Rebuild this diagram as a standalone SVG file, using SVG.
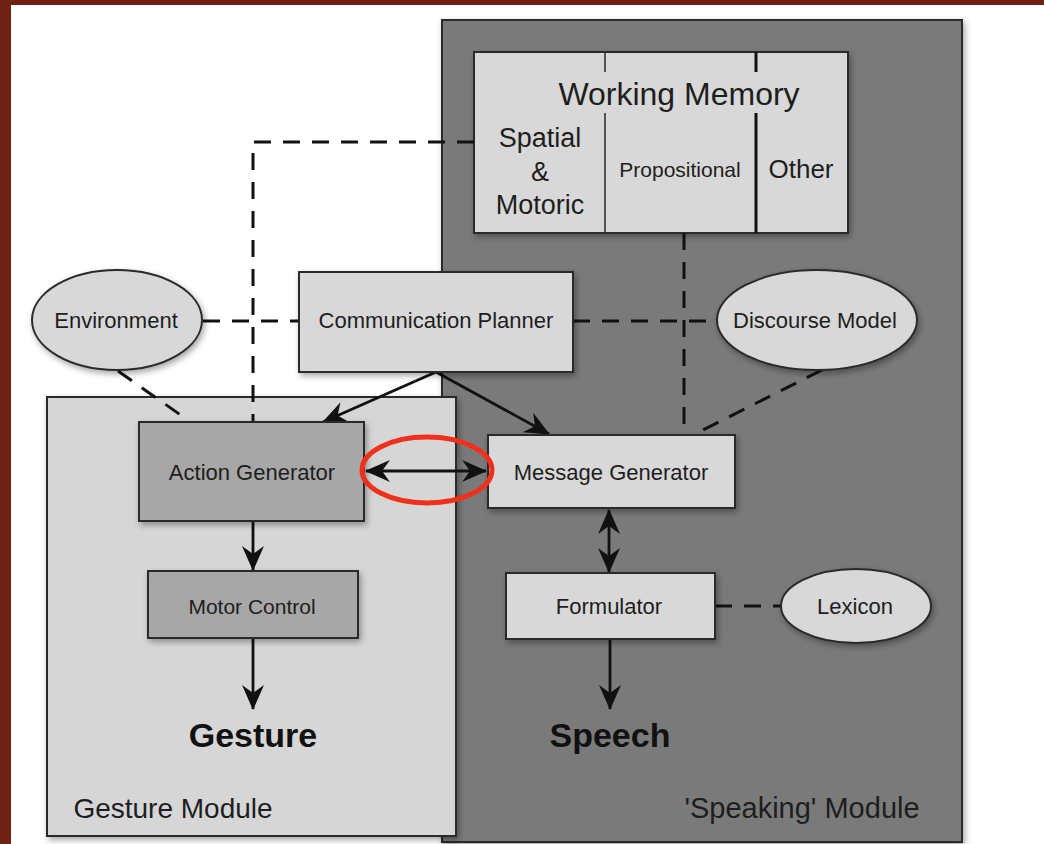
<svg xmlns="http://www.w3.org/2000/svg" width="1044" height="844" viewBox="0 0 1044 844">
<defs>
<style>
.t{font-family:"Liberation Sans",Arial,Helvetica,sans-serif;fill:#1e1e1e;text-anchor:middle}
.b{font-weight:bold;fill:#111}
.box{stroke:#2a2a2a;stroke-width:2}
.lt{fill:#d8d8d8}
.md{fill:#a7a7a7}
.dash{fill:none;stroke:#111;stroke-width:3;stroke-dasharray:17 12}
.sol{fill:none;stroke:#111;stroke-width:2.8}
</style>
<filter id="sh" x="-10%" y="-10%" width="125%" height="125%">
<feDropShadow dx="2" dy="3" stdDeviation="3" flood-color="#000" flood-opacity="0.35"/>
</filter>
<marker id="ah" viewBox="0 0 25 22" refX="24" refY="11" markerWidth="25" markerHeight="22" markerUnits="userSpaceOnUse" orient="auto-start-reverse">
<path d="M0,0 L25,11 L0,22 L8,11 z" fill="#111"/>
</marker>
</defs>

<rect x="0" y="0" width="1044" height="844" fill="#ffffff"/>
<rect x="0" y="0" width="1044" height="5" fill="#6e2113"/>
<rect x="0" y="0" width="11" height="844" fill="#6e2113"/>

<g id="speaking-module">
<rect x="442" y="20" width="520" height="822" fill="#7a7a7a" class="box" filter="url(#sh)"/>
<text class="t" x="802" y="818" font-size="29">'Speaking' Module</text>
</g>

<g id="working-memory">
<rect x="474" y="52" width="374" height="181" class="box lt" filter="url(#sh)"/>
<line x1="605" y1="52" x2="605" y2="72" stroke="#2a2a2a" stroke-width="1.5"/>
<line x1="605" y1="113" x2="605" y2="233" stroke="#2a2a2a" stroke-width="1.5"/>
<line x1="756" y1="52" x2="756" y2="72" stroke="#111" stroke-width="3"/>
<line x1="756" y1="113" x2="756" y2="233" stroke="#111" stroke-width="3"/>
<text class="t" x="679" y="105" font-size="32">Working Memory</text>
<text class="t" x="540" y="147" font-size="27">Spatial</text>
<text class="t" x="540" y="181" font-size="27">&amp;</text>
<text class="t" x="540" y="214" font-size="27">Motoric</text>
<text class="t" x="680" y="177" font-size="21">Propositional</text>
<text class="t" x="801" y="178" font-size="26">Other</text>
</g>

<g id="gesture-module">
<rect x="47" y="397" width="409" height="439" fill="#d6d6d6" class="box" filter="url(#sh)"/>
<text class="t" x="173" y="818" font-size="28">Gesture Module</text>
</g>

<g id="connectors">
<polyline class="dash" points="474,142 253,142 253,422"/>
<line class="dash" x1="203" y1="321" x2="299" y2="321"/>
<line class="dash" x1="573" y1="321" x2="717" y2="321"/>
<line class="dash" x1="684" y1="233" x2="684" y2="435"/>
<line class="dash" x1="822" y1="370" x2="697" y2="433"/>
<line class="dash" x1="118" y1="371" x2="182" y2="416"/>
<line class="dash" x1="715" y1="606" x2="781" y2="606"/>
<line class="sol" x1="436" y1="372" x2="323" y2="422" marker-end="url(#ah)"/>
<line class="sol" x1="436" y1="372" x2="549" y2="434" marker-end="url(#ah)"/>
<line class="sol" x1="366" y1="471" x2="486" y2="471" marker-start="url(#ah)" marker-end="url(#ah)"/>
<line class="sol" x1="609" y1="510" x2="609" y2="572" marker-start="url(#ah)" marker-end="url(#ah)"/>
<line class="sol" x1="253" y1="522" x2="253" y2="570" marker-end="url(#ah)"/>
<line class="sol" x1="253" y1="638" x2="253" y2="709" marker-end="url(#ah)"/>
<line class="sol" x1="610" y1="639" x2="610" y2="709" marker-end="url(#ah)"/>
</g>

<g id="environment">
<ellipse cx="117" cy="320" rx="85" ry="50" class="box lt" filter="url(#sh)"/>
<text class="t" x="116" y="328" font-size="22">Environment</text>
</g>

<g id="communication-planner">
<rect x="299" y="272" width="274" height="100" class="box lt" filter="url(#sh)"/>
<text class="t" x="436" y="328" font-size="22">Communication Planner</text>
</g>

<g id="discourse-model">
<ellipse cx="817" cy="320" rx="100" ry="50" class="box lt" filter="url(#sh)"/>
<text class="t" x="815" y="328" font-size="22">Discourse Model</text>
</g>

<g id="action-generator">
<rect x="139" y="422" width="225" height="99" class="box md" filter="url(#sh)"/>
<text class="t" x="252" y="480" font-size="22">Action Generator</text>
</g>

<g id="message-generator">
<rect x="488" y="435" width="247" height="73" class="box lt" filter="url(#sh)"/>
<text class="t" x="611" y="480" font-size="22">Message Generator</text>
</g>

<g id="motor-control">
<rect x="148" y="571" width="210" height="67" class="box md" filter="url(#sh)"/>
<text class="t" x="252" y="614" font-size="21">Motor Control</text>
</g>

<g id="formulator">
<rect x="506" y="573" width="209" height="66" class="box lt" filter="url(#sh)"/>
<text class="t" x="609" y="614" font-size="22">Formulator</text>
</g>

<g id="lexicon">
<ellipse cx="856" cy="606" rx="75" ry="37" class="box lt" filter="url(#sh)"/>
<text class="t" x="855" y="614" font-size="22">Lexicon</text>
</g>

<g id="gesture-output">
<text class="t b" x="253" y="747" font-size="34">Gesture</text>
</g>

<g id="speech-output">
<text class="t b" x="610" y="747" font-size="34">Speech</text>
</g>

<g id="highlight">
<ellipse cx="427" cy="470" rx="65" ry="33" fill="none" stroke="#f0301c" stroke-width="5"/>
</g>
</svg>
